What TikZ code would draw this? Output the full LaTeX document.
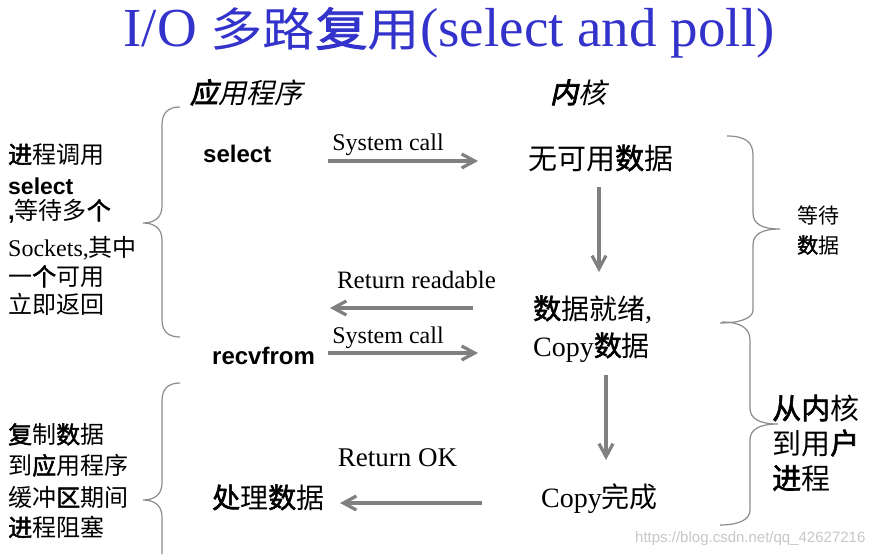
\documentclass[tikz,border=0pt]{standalone}
\usepackage{fontspec}
\setmainfont{Liberation Serif}
\newfontfamily\cjk{Noto Sans CJK SC}
\newfontfamily\cjkbold[FakeBold=2]{Noto Sans CJK SC}
\newfontfamily\cjkit[FakeSlant=0.22]{Noto Sans CJK SC}
\newfontfamily\cjkbit[FakeSlant=0.22,FakeBold=3]{Noto Sans CJK SC}
\newfontfamily\cjkwide[FakeStretch=1.14]{Noto Sans CJK SC}
\newfontfamily\cjkwidebold[FakeStretch=1.14,FakeBold=2]{Noto Sans CJK SC}
\newfontfamily\arialf{Liberation Sans}
\usetikzlibrary{arrows.meta}
\newcommand\bz[1]{{\cjkbold #1}}
\newcommand\fsz[1]{\fontsize{#1}{#1}\selectfont}
\definecolor{arrgray}{RGB}{128,128,128}
\definecolor{bracegray}{RGB}{140,140,140}
\definecolor{titleblue}{RGB}{51,51,204}
\tikzset{
  lbl/.style={inner sep=0pt, anchor=base west},
  lblc/.style={inner sep=0pt, anchor=base},
  arr/.style={draw=arrgray, line width=3.2pt, -{Straight Barb[length=13pt,width=14pt]}},
  bracepath/.style={draw=bracegray, line width=1.2pt}
}
\begin{document}
\begin{tikzpicture}[x=1pt,y=-1pt]
\fill[white] (0,0) rectangle (885,554);
\useasboundingbox (0,0) rectangle (885,554);

% title
\node[lblc, text=titleblue, font=\fsz{55}] (title) at (449,46) {I/O {\fsz{46}\cjkwide 多路{\cjkwidebold 复}用}(select and poll)};

% headers
\node[lblc, font=\fsz{28}] (app) at (246,103) {{\cjkbit 应}{\cjkit 用程序}};
\node[lblc, font=\fsz{28}] (kern) at (578,103) {{\cjkbit 内}{\cjkit 核}};

% application column
\node[lbl, font=\fsz{24}\arialf\bfseries] (sel) at (203,162) {select};
\node[lbl, font=\fsz{24}\arialf\bfseries] (recv) at (212,364) {recvfrom};
\node[lbl, font=\fsz{28}\cjk] (proc) at (212,508) {\bz{处}理\bz{数}据};

% kernel column
\node[lbl, font=\fsz{29}\cjk] (k1) at (528,169) {无可用\bz{数}据};
\node[lbl, font=\fsz{28}] (k2) at (533,319) {{\cjk \bz{数}据就绪},};
\node[lbl, font=\fsz{28}] (k3) at (533,356) {Copy{\cjk \bz{数}据}};
\node[lbl, font=\fsz{28}] (k4) at (541,507) {Copy{\cjk 完成}};

% right notes
\node[lbl, font=\fsz{21}\cjk] (w1) at (797,223) {等待};
\node[lbl, font=\fsz{21}\cjk] (w2) at (797,253) {\bz{数}据};
\node[lbl, font=\fsz{29}\cjk] (u1) at (772,419) {\bz{从内}核};
\node[lbl, font=\fsz{29}\cjk] (u2) at (772,454) {到用\bz{户}};
\node[lbl, font=\fsz{29}\cjk] (u3) at (772,489) {\bz{进}程};

% left notes, block 1
\node[lbl, font=\fsz{24}\cjk] (l1) at (8,163.5) {\bz{进}程调用};
\node[lbl, font=\fsz{23}\arialf\bfseries] (l2) at (8,194) {select};
\node[lbl, font=\fsz{24}] (l3) at (8,219.5) {{\arialf\bfseries ,}{\cjk 等待多\bz{个}}};
\node[lbl, font=\fsz{24}] (l4) at (8,256) {Sockets,{\cjk 其中}};
\node[lbl, font=\fsz{24}\cjk] (l5) at (8,285.5) {一\bz{个}可用};
\node[lbl, font=\fsz{24}\cjk] (l6) at (8,313.5) {立即返回};

% left notes, block 2
\node[lbl, font=\fsz{24}\cjk] (m1) at (8,443.5) {\bz{复}制\bz{数}据};
\node[lbl, font=\fsz{24}\cjk] (m2) at (8,474.5) {到\bz{应}用程序};
\node[lbl, font=\fsz{24}\cjk] (m3) at (8,506.5) {缓冲\bz{区}期间};
\node[lbl, font=\fsz{24}\cjk] (m4) at (8,536.5) {\bz{进}程阻塞};

% arrow labels
\node[lblc, font=\fsz{24}] (sc1) at (388,150) {System call};
\node[lblc, font=\fsz{25}] (rr) at (416.5,288) {Return readable};
\node[lblc, font=\fsz{24}] (sc2) at (388,343) {System call};
\node[lblc, font=\fsz{27}] (rok) at (397.5,466.5) {Return OK};

% arrow end points
\coordinate (a1s) at (328,161);
\coordinate (a1e) at (478,161);
\coordinate (a2s) at (599,187);
\coordinate (a2e) at (599,272);
\coordinate (a3s) at (473,308);
\coordinate (a3e) at (330,308);
\coordinate (a4s) at (328,353);
\coordinate (a4e) at (478,353);
\coordinate (a5s) at (606,375);
\coordinate (a5e) at (606,460);
\coordinate (a6s) at (482,503);
\coordinate (a6e) at (340,503);

\draw[arr] (a1s) -- (a1e);
\draw[arr] (a2s) -- (a2e);
\draw[arr] (a3s) -- (a3e);
\draw[arr] (a4s) -- (a4e);
\draw[arr] (a5s) -- (a5e);
\draw[arr] (a6s) -- (a6e);

% braces
\draw[bracepath] (180,107) .. controls (168,107) and (162,113) .. (162,125) -- (162,206)
  .. controls (162,217) and (155,223) .. (143,223)
  .. controls (155,223) and (162,229) .. (162,240) -- (162,320)
  .. controls (162,331) and (168,337) .. (180,337);
\draw[bracepath] (180,383) .. controls (168,383) and (162,389) .. (162,401) -- (162,483)
  .. controls (162,494) and (155,500) .. (143,500)
  .. controls (155,500) and (162,506) .. (162,517) -- (162,554);
\draw[bracepath] (727,136) .. controls (745,136) and (753,142) .. (753,155) -- (753,213)
  .. controls (753,224) and (762,229) .. (780,229)
  .. controls (762,229) and (753,234) .. (753,245) -- (753,310)
  .. controls (753,319) and (738,323) .. (720,323);
\draw[bracepath] (722,322) .. controls (740,322) and (750,328) .. (750,340) -- (750,408)
  .. controls (750,419) and (760,424) .. (778,424)
  .. controls (760,424) and (750,429) .. (750,440) -- (750,510)
  .. controls (750,520) and (738,525) .. (720,525);

% watermark
\node[lbl, font=\fsz{15}\arialf, text=black!22] (wm) at (635,542) {https://blog.csdn.net/qq\_42627216};
\end{tikzpicture}
\end{document}
